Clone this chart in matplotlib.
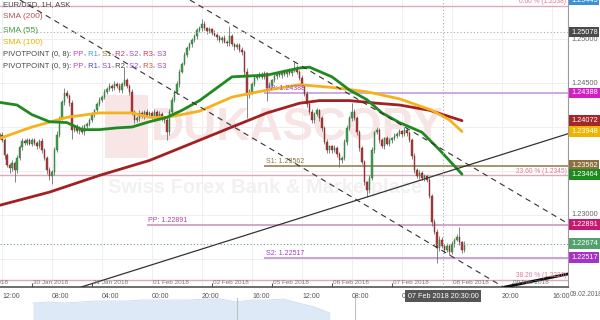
import matplotlib
matplotlib.use("Agg")
import matplotlib.pyplot as plt
import matplotlib.transforms as mtransforms
import numpy as np

plt.rcParams["font.family"] = ["Liberation Sans", "DejaVu Sans"]

W, H = 600, 320

# hourly EUR/USD candles, hours counted from 30 Jan 2018 00:00 (weekend skipped)
first_hour = -13
first_open = 1.2389
closes = [
    # 29 Jan
    1.2391, 1.2385, 1.2368, 1.2357, 1.2353, 1.2359, 1.2351, 1.2365, 1.2377, 1.2384, 1.2382, 1.2385, 1.2381,
    # 30 Jan
    1.2385, 1.2382, 1.2378, 1.2384, 1.2374, 1.2365, 1.2351, 1.2344, 1.2349, 1.2374, 1.2391, 1.2410,
    1.2428, 1.2439, 1.2435, 1.2427, 1.2397, 1.2400, 1.2395, 1.2399, 1.2394, 1.2401, 1.2403, 1.2408,
    # 31 Jan
    1.2414, 1.2419, 1.2426, 1.2431, 1.2434, 1.2440, 1.2443, 1.2447, 1.2444, 1.2449, 1.2447, 1.2442,
    1.2449, 1.2453, 1.2447, 1.2440, 1.2417, 1.2408, 1.2410, 1.2416, 1.2412, 1.2417, 1.2414, 1.2416,
    # 01 Feb
    1.2412, 1.2417, 1.2411, 1.2415, 1.2410, 1.2408, 1.2394, 1.2417, 1.2431, 1.2440, 1.2449, 1.2463,
    1.2472, 1.2482, 1.2490, 1.2494, 1.2499, 1.2503, 1.2510, 1.2512, 1.2517, 1.2512, 1.2509, 1.2511,
    # 02 Feb
    1.2507, 1.2505, 1.2502, 1.2499, 1.2501, 1.2497, 1.2495, 1.2503, 1.2494, 1.2491, 1.2493, 1.2488,
    1.2485, 1.2463, 1.2436, 1.2440, 1.2449, 1.2456, 1.2458, 1.2460, 1.2457, 1.2461, 1.2444, 1.2448,
    # 05 Feb
    1.2453, 1.2458, 1.2460, 1.2459, 1.2463, 1.2460, 1.2464, 1.2461, 1.2465, 1.2467, 1.2463, 1.2456,
    1.2447, 1.2438, 1.2426, 1.2417, 1.2408, 1.2415, 1.2419, 1.2410, 1.2399, 1.2383, 1.2374, 1.2378,
    # 06 Feb
    1.2374, 1.2376, 1.2369, 1.2362, 1.2365, 1.2383, 1.2399, 1.2410, 1.2417, 1.2410, 1.2394, 1.2376,
    1.2360, 1.2337, 1.2328, 1.2342, 1.2374, 1.2394, 1.2397, 1.2385, 1.2378, 1.2387, 1.2381, 1.2385,
    # 07 Feb
    1.2387, 1.2390, 1.2392, 1.2395, 1.2392, 1.2397, 1.2393, 1.2385, 1.2367, 1.2351, 1.2344, 1.2348,
    1.2342, 1.2344, 1.2340, 1.2322, 1.2292, 1.2281, 1.2262, 1.2272, 1.2265, 1.2260, 1.2265, 1.2258,
    # 08 Feb
    1.2267, 1.2272, 1.2275, 1.2269, 1.2260, 1.22674,
]
# wick lengths beyond the body, in pips
wick_up = [
    2, 3, 2, 3, 2, 3, 2, 3, 2, 3, 2, 2, 3,
    2, 3, 2, 2, 3, 2, 2, 3, 2, 3, 4, 3, 3, 5, 3, 2, 4, 2, 3, 2, 3, 2, 3, 2,
    3, 2, 2, 3, 2, 3, 2, 3, 2, 3, 2, 3, 2, 15, 3, 2, 3, 2, 2, 3, 2, 2, 3, 2,
    2, 3, 2, 3, 2, 2, 3, 4, 3, 2, 3, 3, 2, 3, 2, 3, 2, 3, 2, 3, 6, 3, 2, 3,
    2, 3, 2, 3, 2, 3, 2, 12, 3, 2, 3, 2, 3, 3, 4, 3, 2, 3, 2, 3, 2, 3, 2, 3,
    2, 3, 2, 3, 2, 3, 2, 3, 2, 7, 3, 2, 3, 2, 3, 4, 3, 2, 3, 2, 3, 2, 3, 2,
    2, 3, 2, 3, 2, 3, 3, 2, 10, 3, 2, 3, 2, 3, 2, 3, 3, 2, 3, 2, 3, 2, 3, 2,
    2, 3, 2, 3, 2, 3, 2, 3, 2, 3, 2, 3, 2, 3, 2, 3, 2, 3, 3, 4, 3, 2, 3, 2,
    3, 2, 3, 11, 2, 3,
]
wick_down = [
    3, 2, 4, 3, 5, 3, 14, 3, 2, 3, 2, 3, 2,
    3, 2, 3, 2, 3, 3, 4, 4, 9, 3, 2, 2, 2, 3, 2, 3, 11, 3, 2, 3, 2, 3, 2, 2,
    2, 3, 2, 2, 3, 2, 3, 2, 3, 2, 3, 2, 3, 2, 3, 4, 3, 3, 2, 3, 2, 3, 2, 3,
    3, 2, 3, 2, 3, 4, 9, 3, 2, 3, 2, 3, 2, 2, 3, 2, 3, 2, 3, 2, 3, 2, 3, 2,
    3, 2, 3, 2, 3, 2, 3, 3, 2, 3, 2, 3, 3, 4, 26, 3, 3, 2, 3, 2, 3, 2, 14, 3,
    3, 2, 3, 2, 3, 2, 3, 2, 3, 2, 3, 3, 2, 3, 3, 2, 4, 3, 2, 3, 3, 2, 3, 3,
    3, 2, 3, 8, 3, 2, 3, 2, 3, 2, 3, 3, 2, 3, 8, 3, 2, 3, 2, 3, 2, 3, 2, 3,
    3, 2, 3, 2, 3, 2, 3, 2, 3, 3, 2, 3, 2, 3, 2, 3, 4, 3, 16, 3, 2, 3, 2, 3,
    2, 3, 2, 3, 3, 2,
]

# moving averages
sma55_h = [-13, -6, 0, 7, 14, 20, 27, 34, 40, 47, 54, 60, 67, 80, 94, 107, 111, 120, 127, 134, 140, 147, 156, 163, 172]
sma55 = [1.2428, 1.2425, 1.2414, 1.2406, 1.2405, 1.2397, 1.2397, 1.2399, 1.2400, 1.2406, 1.2411, 1.2419, 1.2430,
         1.2457, 1.2459, 1.2467, 1.2468, 1.2457, 1.2442, 1.2431, 1.2416, 1.2405, 1.2394, 1.2374, 1.23464]
sma100_h = [-13, 0, 14, 27, 40, 47, 54, 67, 80, 94, 107, 120, 134, 147, 160, 167, 172]
sma100 = [1.2387, 1.2400, 1.2411, 1.2416, 1.2416, 1.2411, 1.2411, 1.2418, 1.2434, 1.2442, 1.2448, 1.2445,
          1.2440, 1.2432, 1.2419, 1.2408, 1.23948]
sma200_h = [-13, 7, 27, 47, 67, 80, 94, 107, 115, 127, 138, 147, 159, 172]
sma200 = [1.2311, 1.2326, 1.2345, 1.2362, 1.2385, 1.2400, 1.2416, 1.2427, 1.2430, 1.2430, 1.2427, 1.2425,
          1.2419, 1.24072]

# pivot point levels (price, first hour shown, label)
pivot_prices = [1.24388, 1.23562, 1.22891, 1.22517]
pivot_start = [93, 93, 46, 93]
pivot_names = ["PP", "S1", "PP", "S2"]
pivot_colors = ["#c9a3dd", "#9c8c62", "#cf9fc4", "#c79ad8"]
pivot_text_colors = ["#b040c0", "#8a7a40", "#b040a0", "#9a40c0"]

# fibonacci retracement
fib_pct = ["0.00", "23.60", "38.20"]
fib_prices = [1.2538, 1.2345, 1.2226]

# trend lines: (hour, price) pairs
channel_low = [(-4.8, 1.25443), (187.2, 1.22205)]
channel_high = [(63.2, 1.25443), (214.0, 1.22909)]
uptrend = [(18.4, 1.22170), (214.0, 1.23920)]
bold_line = [(187.2, 1.22170), (214.4, 1.22330)]

cross_hour = 164.5
cross_price = 1.25078
last_price = 1.22674

# right axis value tags
tag_prices = [1.25443, 1.25078, 1.24388, 1.24072, 1.23948, 1.23562, 1.23464, 1.22891, 1.22674, 1.22517]
tag_colors = ["#3d8fd6", "#4a4a4a", "#d21fc3", "#a3262a", "#f0b400", "#8b6f3e", "#1d8a1d", "#c8186e", "#54a06e", "#a334c4"]
plain_prices = [1.25000, 1.24500, 1.23000]

day_hours = [-24, 0, 24, 48, 72, 96, 120, 144, 168, 192]
day_labels = ["29 Jan 2018", "30 Jan 2018", "31 Jan 2018", "01 Feb 2018", "02 Feb 2018",
              "05 Feb 2018", "06 Feb 2018", "07 Feb 2018", "08 Feb 2018", "09 Feb 2018"]
tick_hours = [-12, 8, 28, 48, 68, 88, 108, 128, 148, 168, 188, 208]
tick_labels = ["12:00", "08:00", "04:00", "00:00", "20:00", "16:00", "12:00", "08:00", "04:00", "00:00", "20:00", "16:00"]

# navigator (longer history, relative level)
nav_level = [17, 18, 17, 18, 19, 19, 19, 20, 20, 20, 20, 21, 21, 18, 20, 20, 21, 17, 13, 7]

fig = plt.figure(figsize=(W / 100, H / 100), dpi=100)
ax = fig.add_axes([0, 33 / H, 568 / W, 287 / H])

for s in ["top", "left"]:
    ax.spines[s].set_visible(False)
ax.spines["bottom"].set_color("#555555")
ax.spines["bottom"].set_linewidth(1.2)
ax.spines["right"].set_color("#9a9a9a")
ax.spines["right"].set_linewidth(0.8)
ax.set_yticks([])

for p in [1.225, 1.23, 1.235, 1.24, 1.245, 1.25]:
    ax.axhline(p, color="#efefef", lw=0.7, zorder=0)
for h in tick_hours:
    ax.axvline(h, color="#efefef", lw=0.7, zorder=0)

# watermark
ax.text(0.265, 0.555, "DUKASCOPY", transform=ax.transAxes, fontsize=33, fontweight="bold",
        color="#f7e4e4", va="center", ha="left", zorder=1)
ax.text(0.19, 0.345, "Swiss Forex Bank & Marketplace", transform=ax.transAxes, fontsize=14.5,
        fontweight="bold", color="#f1f1f1", va="center", ha="left", zorder=1)
ax.add_patch(plt.Rectangle((0.185, 0.45), 0.075, 0.22, transform=ax.transAxes, color="#f8e6e6",
                           zorder=1, lw=0))

# fibonacci lines
for pct, p in zip(fib_pct, fib_prices):
    ax.axhline(p, color="#dcaab8", lw=1.0, zorder=2)
    ax.text(213.8, p + 0.00010, f"{pct} % ({p:.4f})", fontsize=4.8, color="#e07a92",
            ha="right", va="bottom", zorder=6)

# pivot lines
for p, h0, name, lc, tc in zip(pivot_prices, pivot_start, pivot_names, pivot_colors, pivot_text_colors):
    ax.hlines(p, h0, 214.4, color=lc, lw=1.3, zorder=2)
    ax.text(h0 + 0.5, p + 0.00008, f"{name}: {p:.5f}", fontsize=5, color=tc, ha="left", va="bottom", zorder=6)

# candles
hours = np.arange(first_hour, first_hour + len(closes))
c = np.array(closes)
o = np.array([first_open] + closes[:-1])
hi = np.maximum(o, c) + np.array(wick_up) * 1e-4
lo = np.minimum(o, c) - np.array(wick_down) * 1e-4
up = c >= o
ax.vlines(hours, lo, hi, color="#707070", lw=0.6, zorder=3)
ax.bar(hours[up], np.maximum((c - o)[up], 0.00003), bottom=o[up], width=0.78,
       color="#40a050", edgecolor="#2f6e35", lw=0.3, zorder=4)
ax.bar(hours[~up], np.maximum((o - c)[~up], 0.00003), bottom=c[~up], width=0.78,
       color="#b03838", edgecolor="#7a2a2a", lw=0.3, zorder=4)

# moving averages
ax.plot(sma200_h, sma200, color="#a31f22", lw=2.0, zorder=5, solid_capstyle="round")
ax.plot(sma100_h, sma100, color="#f5b21c", lw=2.0, zorder=5, solid_capstyle="round")
ax.plot(sma55_h, sma55, color="#1f8a1f", lw=2.0, zorder=5, solid_capstyle="round")

# trend lines
ax.axline(*channel_low, color="#333333", lw=0.8, ls=(0, (5, 4)), zorder=5)
ax.axline(*channel_high, color="#333333", lw=0.8, ls=(0, (5, 4)), zorder=5)
ax.axline(*uptrend, color="#333333", lw=0.9, zorder=5)
ax.axline(*bold_line, color="#111111", lw=2.0, zorder=5)

# crosshair and last price
ax.axvline(cross_hour, color="#aaaaaa", lw=0.8, ls=(0, (1, 2)), zorder=6)
ax.axhline(cross_price, color="#aaaaaa", lw=0.8, ls=(0, (1, 2)), zorder=6)
ax.axhline(last_price, color="#6f9f80", lw=0.8, ls=(0, (1, 2)), zorder=6)

# x axis
ax.set_xticks(tick_hours)
ax.set_xticklabels(tick_labels)
ax.tick_params(axis="x", which="major", length=0, labelsize=5, colors="#555555", pad=4)
for lbl in ax.get_xticklabels():
    lbl.set_ha("left")
ax.set_xticks(day_hours, minor=True)
ax.tick_params(axis="x", which="minor", direction="in", length=3, color="#555555", width=0.8)

ax.set_xlim(-12.8, 214.4)
ax.set_ylim(1.221818, 1.254432)

for h, lab in zip(day_hours, day_labels):
    ax.text(h + 0.3, 0.017, lab, transform=mtransforms.blended_transform_factory(ax.transData, ax.transAxes),
            fontsize=4.6, color="#777777", ha="left", va="center", zorder=6)

ax.text(cross_hour, -0.032, "07 Feb 2018 20:30:00",
        transform=mtransforms.blended_transform_factory(ax.transData, ax.transAxes),
        fontsize=5.2, color="white", ha="center", va="center", zorder=10, clip_on=False,
        bbox=dict(boxstyle="square,pad=0.35", fc="#555555", ec="none"))

# right axis tags
tr = mtransforms.blended_transform_factory(fig.transFigure, ax.transData)
for p in plain_prices:
    ax.text(571 / W, p, f"{p:.5f}", transform=tr, fontsize=5.3, color="#666666", ha="left", va="center",
            clip_on=False)
for p, col in zip(tag_prices, tag_colors):
    ax.text(571 / W, p, f"{p:.5f}", transform=tr, fontsize=5.3, color="white", ha="left", va="center",
            clip_on=False, zorder=10, bbox=dict(boxstyle="square,pad=0.25", fc=col, ec="none"))
fig.text(570 / W, 1 - 295 / H, "09.02.2018", fontsize=4.8, color="#666666", ha="left", va="center")

# legend lines
fig.canvas.draw()
renderer = fig.canvas.get_renderer()


def colored_line(x_px, y_px, pieces, size=5.5):
    for s, col in pieces:
        t = fig.text(x_px / W, 1 - y_px / H, s, color=col, fontsize=size, va="center", ha="left", zorder=12)
        x_px += t.get_window_extent(renderer=renderer).width


gray = "#444444"
colored_line(3, 5, [("EUR/USD, 1H, ASK", gray)])
colored_line(3, 17, [("SMA (200)", "#b9504f")], size=6)
colored_line(3, 30, [("SMA (55)", "#3c9a3c")], size=6)
colored_line(3, 42, [("SMA (100)", "#e8b300")], size=6)
colored_line(3, 54, [("PIVOTPOINT (0, 8):", gray), (" PP", "#c63cc6"), (",", gray), (" R1", "#3b9bd6"),
                     (",", gray), (" S1", "#8b7a45"), (",", gray), (" R2", "#c33a5c"), (",", gray),
                     (" S2", "#9a4ccb"), (",", gray), (" R3", "#c33a5c"), (",", gray), (" S3", "#9a4ccb")])
colored_line(3, 66, [("PIVOTPOINT (0, 9):", gray), (" PP", "#c63cb0"), (",", gray), (" R1", "#4a4ac2"),
                     (",", gray), (" S1", "#8a45c8"), (",", gray), (" R2", gray), (",", gray),
                     (" S2", "#9a4ccb"), (",", gray), (" R3", "#d0553a"), (",", gray), (" S3", "#9a4ccb")])

# navigator strip
nav = fig.add_axes([0, 0, 1, 22 / H])
nav.set_xlim(-2.11, 36.3)
nav.set_ylim(0, 22)
nav.axis("off")
nav.fill_between(np.arange(len(nav_level)), nav_level, 0, color="#dde9f6", lw=0)
nav.plot(np.arange(len(nav_level)), nav_level, color="#c9dcf0", lw=0.6)
nav.axvline(13.05, color="#c0c0c0", lw=0.8)
nav.axvline(20.6, color="#c0c0c0", lw=0.8)

fig.savefig("out.png", dpi=100)
